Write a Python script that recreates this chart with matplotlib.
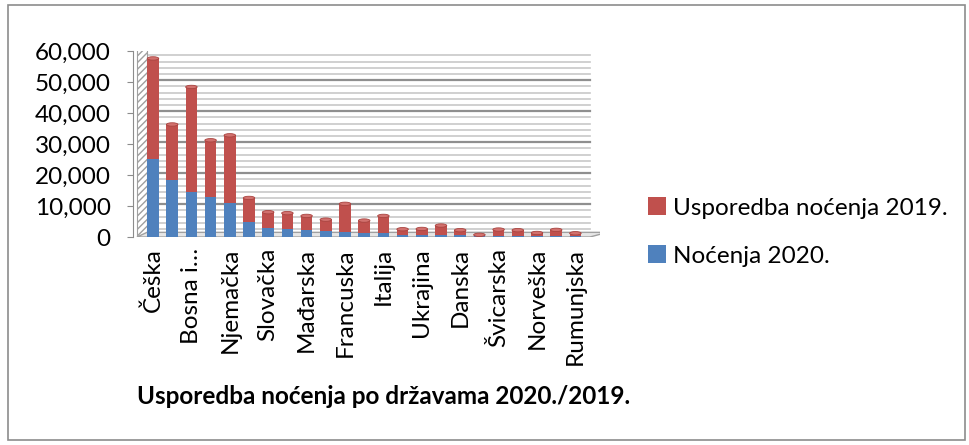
import numpy as np
import matplotlib
matplotlib.use("Agg")
import matplotlib.pyplot as plt
from matplotlib.patches import Rectangle, Ellipse, Polygon

plt.rcParams['font.family'] = ['Lato', 'DejaVu Sans']

# data (23 countries, every second one labelled)
labels = ['Češka', '', 'Bosna i…', '', 'Njemačka', '', 'Slovačka', '', 'Mađarska', '',
          'Francuska', '', 'Italija', '', 'Ukrajina', '', 'Danska', '', 'Švicarska', '',
          'Norveška', '', 'Rumunjska']
nocenja_2020 = [25300, 18500, 14400, 13000, 11000, 4800, 3000, 2600, 2200, 1900,
                1500, 1200, 1200, 800, 700, 600, 500, 300, 400, 400, 300, 300, 200]
usporedba_2019 = [32300, 17800, 34000, 18200, 21800, 7800, 5000, 5100, 4600, 3700,
                  9200, 4100, 5600, 1700, 1900, 3100, 1700, 400, 2000, 1800, 1000, 2000, 1000]
yticks = [0, 10000, 20000, 30000, 40000, 50000, 60000]

red = '#C0504D'
blue = '#4F81BD'

W, H = 970, 445
fig = plt.figure(figsize=(W / 100, H / 100), dpi=100)

# outer chart border
fig.patches.append(Rectangle((8 / W, 5 / H), 957 / W, 435 / H, transform=fig.transFigure,
                             fill=False, edgecolor='#8c8c8c', linewidth=1.2))

x0, x1, ytop, ybase = 133, 600, 51, 237
ax = fig.add_axes([x0 / W, (H - ybase) / H, (x1 - x0) / W, (ybase - ytop) / H])
step = 19.2
ax.set_xlim((x0 - 153) / step, (x1 - 153) / step)
ax.set_ylim(0, 60000)

x = np.arange(len(labels))
b2020 = np.array(nocenja_2020)
b2019 = np.array(usporedba_2019)

# back wall grid lines
wall_l, wall_r = (147 - 153) / step, (590 - 153) / step
for v in np.arange(0, 60001, 2000):
    major = v % 10000 == 0
    ax.plot([wall_l, wall_r], [v + 600, v + 600], color='#8f8f8f' if major else '#c8c8c8',
            lw=1.6 if major else 1.2, zorder=1)

# hatched side wall
ax.add_patch(Rectangle(((137 - 153) / step, 0), 10 / step, 60500, facecolor='white',
                       edgecolor='#a0a0a0', hatch='/////', lw=0.8, zorder=1))

# floor
ax.add_patch(Polygon([[(137 - 153) / step, 0], [wall_r, 0], [wall_r + 0.9, 1500],
                      [(147 - 153) / step, 1500]], closed=True, facecolor='#e6e6e6',
                     edgecolor='#a0a0a0', lw=1, zorder=2))

bw = 0.6
eh = 1100
ax.bar(x, b2020, width=bw, color=blue, zorder=3, label='Noćenja 2020.')
ax.bar(x, b2019, width=bw, bottom=b2020, color=red, zorder=3, label='Usporedba noćenja 2019.')
for xi, a, b in zip(x, b2020, b2019):
    ax.add_patch(Ellipse((xi, a + b), bw, eh, facecolor='#d2716e', edgecolor='#a94440', lw=0.6, zorder=4))
    ax.add_patch(Ellipse((xi, 0), bw, eh, facecolor=blue, lw=0, zorder=2.9))

for s in ['top', 'right', 'bottom']:
    ax.spines[s].set_visible(False)
ax.spines['left'].set_color('#8c8c8c')
ax.set_yticks(yticks)
ax.set_yticklabels([f'{v:,}' for v in yticks], fontsize=17.5)
ax.tick_params(axis='y', length=4, color='#8c8c8c', pad=12)
ax.set_xticks(x)
ax.set_xticklabels(labels, rotation=90, fontsize=17.5, va='top', ha='center')
ax.tick_params(axis='x', length=0, pad=8)

handles, labs = ax.get_legend_handles_labels()
fig.legend(handles[::-1], labs[::-1], loc='center left', bbox_to_anchor=(626 / W, 1 - 232 / H),
           frameon=False, fontsize=17.5, handlelength=0.75, handleheight=0.75,
           labelspacing=1.1, handletextpad=0.3)

fig.text(384 / W, 1 - 397 / H, 'Usporedba noćenja po državama 2020./2019.', fontsize=17.5,
         fontweight='bold', ha='center', va='center')

fig.savefig('out.png', dpi=100)
